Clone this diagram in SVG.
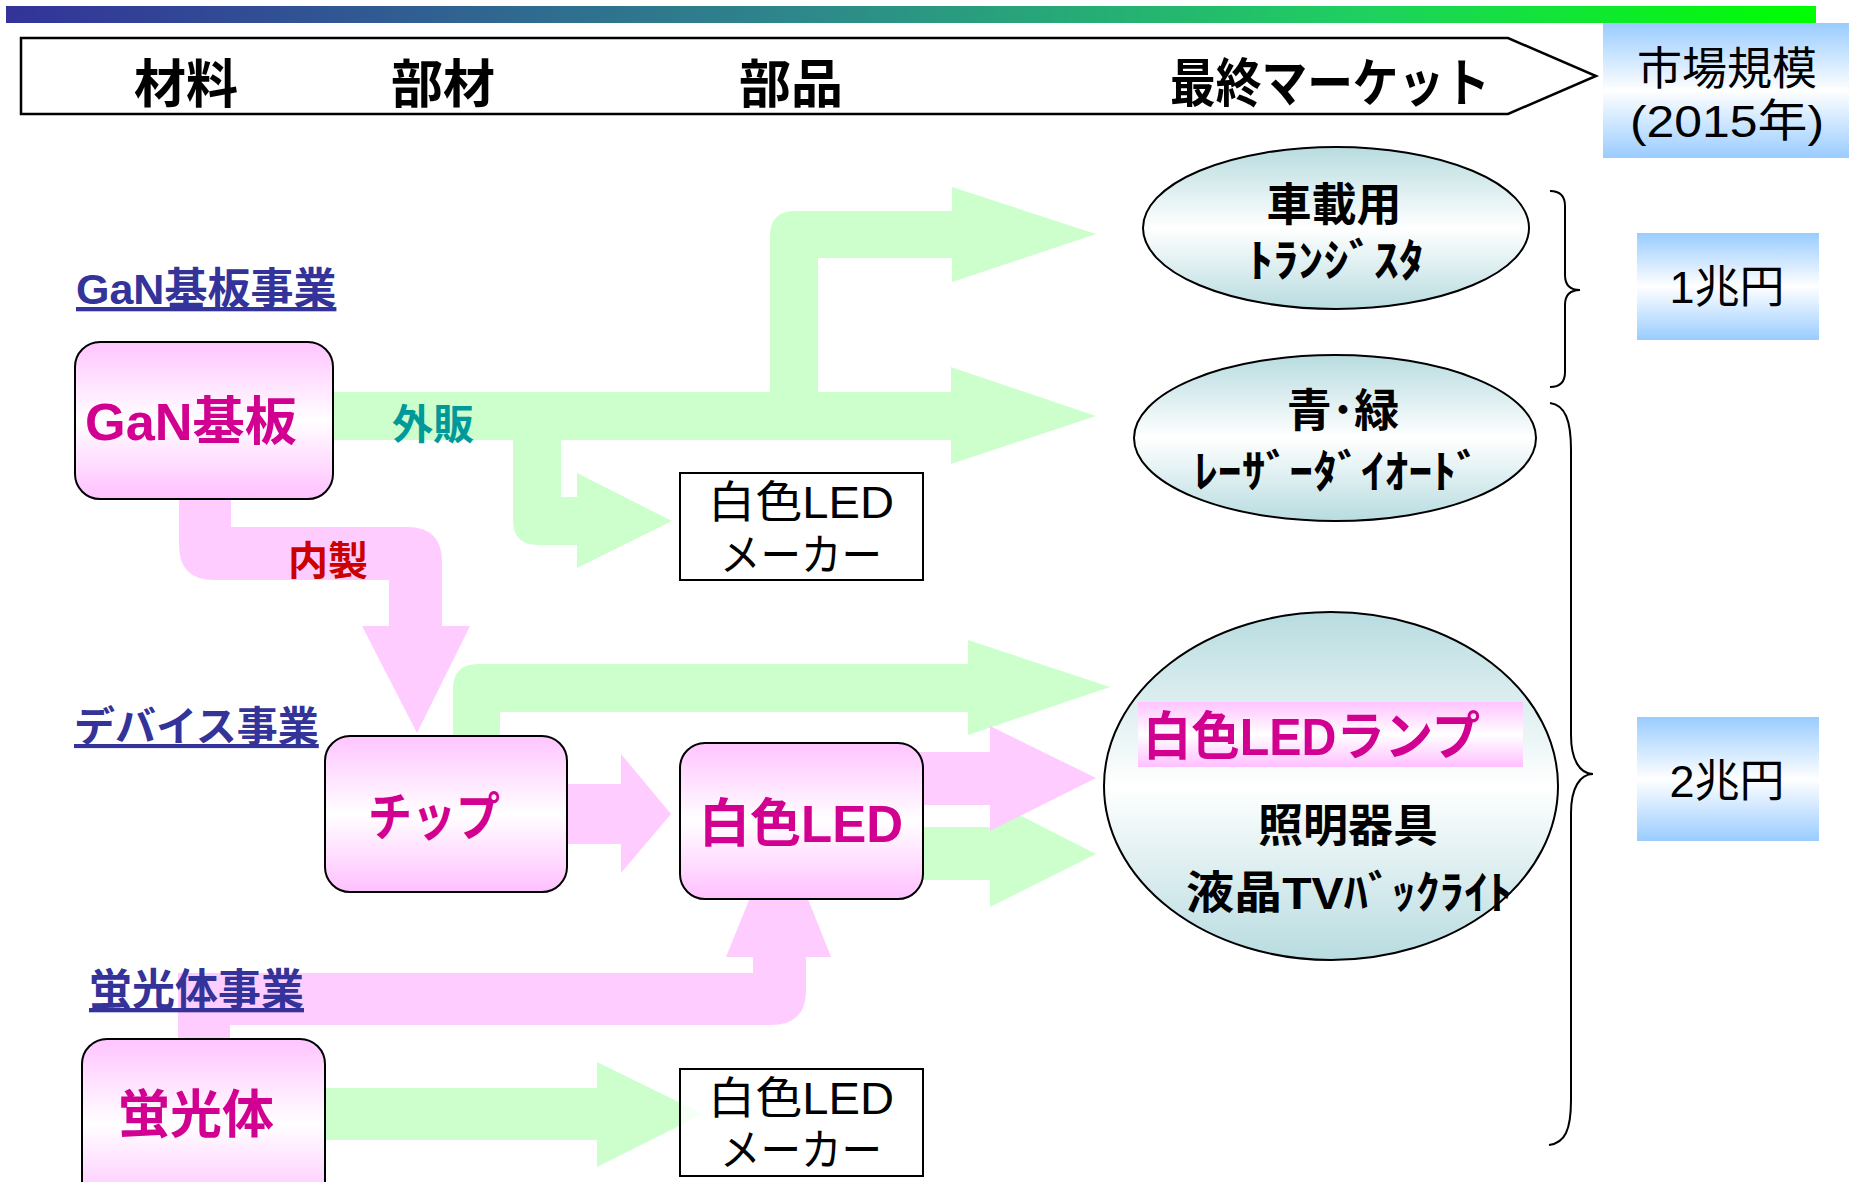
<svg xmlns="http://www.w3.org/2000/svg" width="1849" height="1182" viewBox="0 0 1849 1182">
<defs>
<linearGradient id="barGrad" x1="0" y1="0" x2="1" y2="0">
<stop offset="0" stop-color="#333399"/><stop offset="0.45" stop-color="#2D8A8A"/><stop offset="0.75" stop-color="#1FD060"/><stop offset="1" stop-color="#00FF00"/>
</linearGradient>
<linearGradient id="blueGrad" x1="0" y1="0" x2="0" y2="1">
<stop offset="0" stop-color="#99CCFF"/><stop offset="0.5" stop-color="#FFFFFF"/><stop offset="1" stop-color="#99CCFF"/>
</linearGradient>
<linearGradient id="pinkGrad" x1="0" y1="0" x2="0" y2="1">
<stop offset="0" stop-color="#FFC4FF"/><stop offset="0.5" stop-color="#FFFFFF"/><stop offset="1" stop-color="#FFC0FF"/>
</linearGradient>
<linearGradient id="ellGrad" x1="0" y1="0" x2="0" y2="1">
<stop offset="0" stop-color="#B8DCE0"/><stop offset="0.5" stop-color="#FFFFFF"/><stop offset="1" stop-color="#B8DCE0"/>
</linearGradient>
</defs>
<style>
text{font-family:"Liberation Sans","Noto Sans CJK JP",sans-serif;}
.hdr{font-size:52px;font-weight:bold;fill:#000;text-anchor:middle;}
.mkt{font-size:45px;fill:#000;text-anchor:middle;}
.ell{fill:url(#ellGrad);stroke:#000;stroke-width:2;}
.pbox{fill:url(#pinkGrad);stroke:#000;stroke-width:2;}
.obox{fill:#FFFFFF;fill-opacity:0.8;stroke:#000;stroke-width:2;}
.mag{font-size:52px;font-weight:bold;fill:#D10090;}
.blk{font-size:45px;font-weight:bold;fill:#000;text-anchor:middle;}
.reg{font-size:44px;fill:#000;text-anchor:middle;}
.sec{font-weight:bold;fill:#333399;text-decoration:underline;}
.green{fill:#CCFFCC;}
.pink{fill:#FFCCFF;}
.brace{fill:none;stroke:#000;stroke-width:2;}
</style>
<rect x="0" y="0" width="1849" height="1182" fill="#FFFFFF"/>
<rect x="6" y="6" width="1810" height="17" fill="url(#barGrad)"/>

<g id="header">
<path d="M21,38 H1508 L1596,76 L1508,114 H21 Z" fill="#FFFFFF" stroke="#000" stroke-width="2.5"/>
<text class="hdr" x="186" y="103">材料</text>
<text class="hdr" x="443" y="103">部材</text>
<text class="hdr" x="791" y="103">部品</text>
<text class="hdr" x="1330" y="102" textLength="320" lengthAdjust="spacingAndGlyphs">最終マーケット</text>
</g>

<g id="market-size-header">
<rect x="1603" y="23" width="246" height="135" fill="url(#blueGrad)"/>
<text class="mkt" x="1727" y="85" font-size="46">市場規模</text>
<text class="mkt" x="1727" y="137" font-size="46" textLength="194" lengthAdjust="spacingAndGlyphs">(2015年)</text>
</g>

<g id="size-1">
<rect x="1637" y="233" width="182" height="107" fill="url(#blueGrad)"/>
<text class="mkt" x="1727" y="303">1兆円</text>
</g>
<g id="size-2">
<rect x="1637" y="717" width="182" height="124" fill="url(#blueGrad)"/>
<text class="mkt" x="1727" y="797">2兆円</text>
</g>

<g id="connectors">
<path class="green" d="M320,392 H770 V236 Q770,211 795,211 H952 V187 L1096,234 L952,282 V258 H818 V392 H951 V367 L1096,416 L951,464 V440 H561 V497 H577 V473 L672,521 L577,568 V545 H538 Q513,545 513,520 V440 H320 Z"/>
<path class="green" d="M453,740 V689 Q453,664 478,664 H968 V640 L1110,687 L968,735 V712 H500 V740 Z"/>
<path class="pink" d="M179,490 V545 Q179,580 214,580 H389 V626 H362 L417,733 L470,626 H442 V562 Q442,527 407,527 H231 V490 Z"/>
<path class="pink" d="M560,784 H621 V754 L671,814 L621,873 V844 H560 Z"/>
<path class="green" d="M915,827 H990 V800 L1096,854 L990,907 V880 H915 Z"/>
<path class="pink" d="M915,752 H990 V726 L1096,778 L990,831 V805 H915 Z"/>
<path class="pink" d="M178,1045 V973 H753 V957 H726 L779,826 L831,957 H806 V990 Q806,1025 771,1025 H230 V1045 Z"/>
<path class="green" d="M318,1088 H597 V1062 L703,1114 L597,1167 V1140 H318 Z"/>
<text x="392" y="439" font-size="41" font-weight="bold" fill="#009999">外販</text>
<text x="288" y="575" font-size="40" font-weight="bold" fill="#CC0000">内製</text>
</g>

<g id="section-labels">
<text class="sec" x="76" y="304" font-size="43">GaN基板事業</text>
<text class="sec" x="74" y="741" font-size="41">デバイス事業</text>
<text class="sec" x="89" y="1005" font-size="43">蛍光体事業</text>
</g>

<g id="node-gan">
<rect class="pbox" x="75" y="342" width="258" height="157" rx="25" ry="25"/>
<text class="mag" x="85" y="440" textLength="212" lengthAdjust="spacingAndGlyphs">GaN基板</text>
</g>
<g id="node-chip">
<rect class="pbox" x="325" y="736" width="242" height="156" rx="25" ry="25"/>
<text class="mag" x="434" y="836" text-anchor="middle" font-size="50" textLength="132" lengthAdjust="spacingAndGlyphs">チップ</text>
</g>
<g id="node-whiteled">
<rect class="pbox" x="680" y="743" width="243" height="156" rx="25" ry="25"/>
<text class="mag" x="699" y="842" textLength="204" lengthAdjust="spacingAndGlyphs">白色LED</text>
</g>
<g id="node-phosphor">
<rect class="pbox" x="82" y="1039" width="243" height="170" rx="25" ry="25"/>
<text class="mag" x="196" y="1133" text-anchor="middle">蛍光体</text>
</g>
<g id="node-maker-1">
<rect class="obox" x="680" y="473" width="243" height="107"/>
<text class="reg" x="801" y="518" textLength="186" lengthAdjust="spacingAndGlyphs">白色LED</text>
<text class="reg" x="801" y="571" textLength="162" lengthAdjust="spacingAndGlyphs">メーカー</text>
</g>
<g id="node-maker-2">
<rect class="obox" x="680" y="1069" width="243" height="107"/>
<text class="reg" x="801" y="1114" textLength="186" lengthAdjust="spacingAndGlyphs">白色LED</text>
<text class="reg" x="801" y="1166" textLength="162" lengthAdjust="spacingAndGlyphs">メーカー</text>
</g>

<g id="market-transistor">
<ellipse class="ell" cx="1336" cy="228" rx="193" ry="81"/>
<text class="blk" x="1334" y="221" font-size="44">車載用</text>
<text class="blk" x="1336" y="277" font-size="46" textLength="176" lengthAdjust="spacingAndGlyphs">ﾄﾗﾝｼﾞｽﾀ</text>
</g>
<g id="market-laser">
<ellipse class="ell" cx="1335" cy="438" rx="201" ry="83"/>
<text class="blk" x="1343" y="427" font-size="44">青･緑</text>
<text class="blk" x="1337" y="488" font-size="46" textLength="286" lengthAdjust="spacingAndGlyphs">ﾚｰｻﾞｰﾀﾞｲｵｰﾄﾞ</text>
</g>
<g id="market-lamp">
<ellipse class="ell" cx="1331" cy="786" rx="227" ry="174"/>
<rect x="1138" y="702" width="385" height="65" fill="url(#pinkGrad)"/>
<text class="mag" x="1143" y="755" font-size="50" textLength="337" lengthAdjust="spacingAndGlyphs">白色LEDランプ</text>
<text class="blk" x="1348" y="842">照明器具</text>
<text x="1186" y="909" font-size="45" font-weight="bold" fill="#000" textLength="326" lengthAdjust="spacingAndGlyphs">液晶TVﾊﾞｯｸﾗｲﾄ</text>
</g>

<g id="braces">
<path class="brace" d="M1550,191 C1560,191 1565,196 1565,206 V275 C1565,285 1570,290 1580,290 C1570,290 1565,295 1565,305 V372 C1565,382 1560,387 1550,387"/>
<path class="brace" d="M1550,403 C1565,405 1571,420 1571,450 V735 C1571,760 1580,774 1593,774 C1580,774 1571,788 1571,813 V1100 C1571,1130 1565,1143 1549,1145"/>
</g>
</svg>
